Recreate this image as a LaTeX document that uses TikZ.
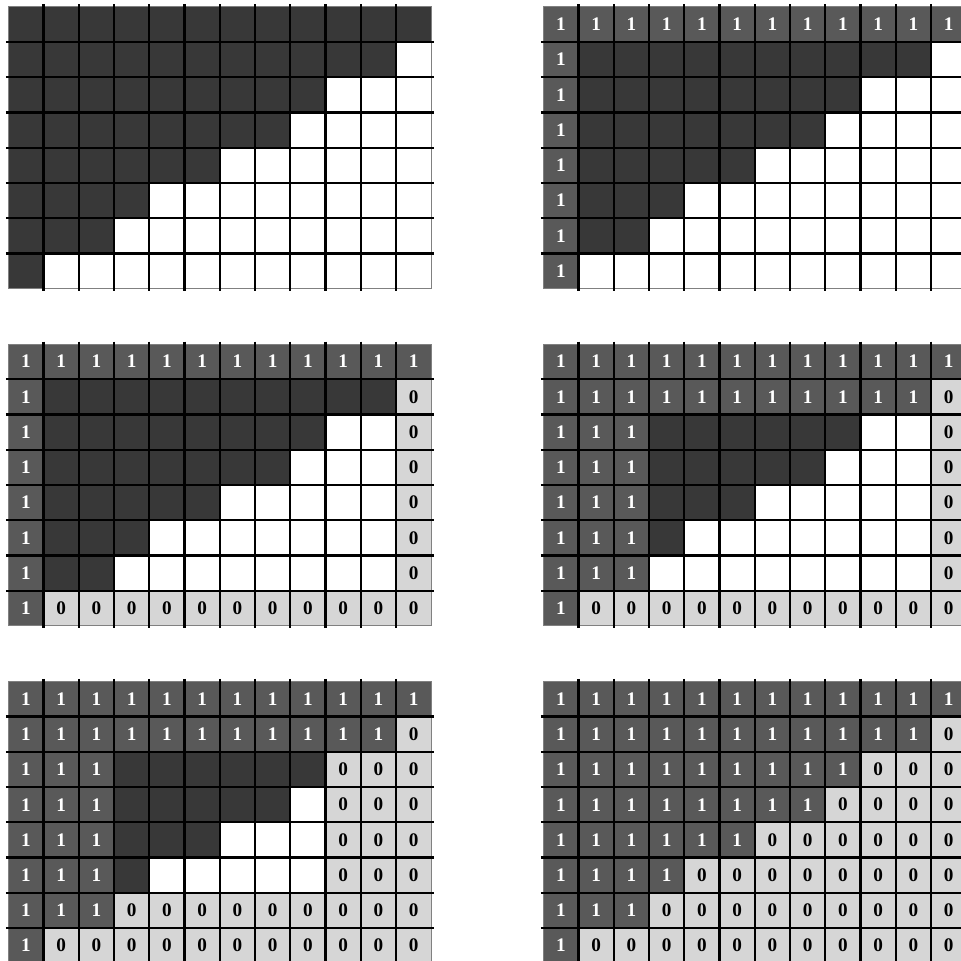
\documentclass[tikz,border=0pt]{standalone}
\usepackage{fontspec}
\setmainfont{Liberation Serif}

\definecolor{darkfill}{gray}{0.22}
\definecolor{onefill}{gray}{0.35}
\definecolor{zerofill}{gray}{0.84}
\definecolor{rimgray}{gray}{0.5}

% one 12x8 grid: #1 name, #2 x, #3 y, #4 which cells carry a label
\newcommand{\pixgrid}[4]{%
  \foreach \r in {1,...,8} {
    \foreach \c in {1,...,12} {
      \pgfmathtruncatemacro{\ndark}{{12,11,9,8,6,4,3,1}[\r-1]}
      \pgfmathtruncatemacro{\isdark}{\c<=\ndark}
      \pgfmathtruncatemacro{\shown}{#4}
      \ifnum\shown=1
        \ifnum\isdark=1 \def\fc{onefill}\def\tc{white}\def\txt{1}%
        \else \def\fc{zerofill}\def\tc{black}\def\txt{0}\fi
      \else
        \ifnum\isdark=1 \def\fc{darkfill}\else \def\fc{white}\fi
        \def\tc{black}\def\txt{}%
      \fi
      \node[cell, fill=\fc, text=\tc] (#1-\r-\c) at (#2+\c-0.5, #3-\r+0.5) {\txt};
    }
  }
  \draw[rim] (#1-1-1.north west) rectangle (#1-8-12.south east);
  \foreach \i in {1,...,11}
    \draw[gridline] ([yshift=0.07cm]#1-1-\i.north east) -- ([yshift=-0.07cm]#1-8-\i.south east);
  \foreach \j in {1,...,7}
    \draw[gridline] ([xshift=-0.07cm]#1-\j-1.south west) -- ([xshift=0.07cm]#1-\j-12.south east);
}

\begin{document}
\begin{tikzpicture}[
  cell/.style={minimum width=1cm, minimum height=1cm, inner sep=0pt, outer sep=0pt,
    font=\fontsize{15.5}{18}\selectfont\bfseries},
  gridline/.style={black, line width=1.8pt},
  rim/.style={rimgray, line width=0.8pt}
]

\useasboundingbox (-0.2355,0.19) rectangle (27.03,-27.07);
\clip (-0.2355,0.19) rectangle (27.03,-27.07);

% Top row
\pixgrid{g1}{0}{0}{0}
\pixgrid{g2}{15.18}{0}{\r==1 || \c==1}

% Middle row
\pixgrid{g3}{0}{-9.57}{\r==1 || \r==8 || \c==1 || \c==12}
\pixgrid{g4}{15.18}{-9.57}{\r<=2 || \r==8 || \c<=3 || \c==12}

% Bottom row
\pixgrid{g5}{0}{-19.14}{\r<=2 || \r>=7 || \c<=3 || \c>=10}
\pixgrid{g6}{15.18}{-19.14}{1}

\end{tikzpicture}
\end{document}
